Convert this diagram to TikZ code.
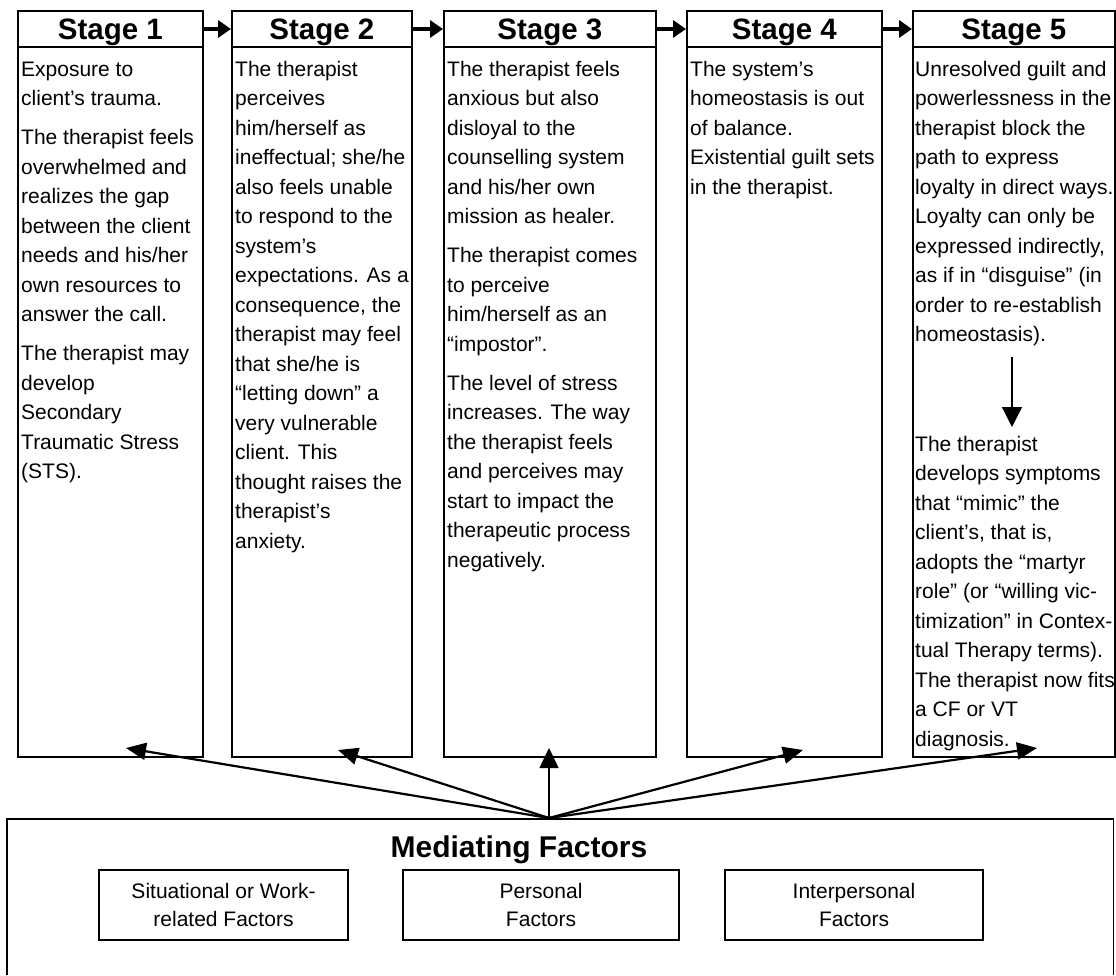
\documentclass[tikz,border=0pt]{standalone}
\usepackage{fontspec}
\setmainfont{Liberation Sans}
\usetikzlibrary{arrows.meta,calc}
\begin{document}
\begin{tikzpicture}[x=1pt,y=-1pt,
  stagebox/.style={draw, line width=1.8pt, rectangle, anchor=north west, inner sep=0pt, minimum width=#1, minimum height=746pt},
  stitle/.style={anchor=base, inner sep=0pt, font=\fontsize{29.5}{32}\selectfont\bfseries},
  body/.style={anchor=north west, inner sep=0pt, align=left, font=\fontsize{21}{29.5}\selectfont},
  harrow/.style={line width=4pt, -{Triangle[length=13pt,width=17pt]}},
  marrow/.style={line width=2.2pt, -{Triangle[length=20pt,width=17pt]}},
  subbox/.style={draw, line width=1.6pt, rectangle, inner sep=0pt, minimum height=70pt, align=center, font=\fontsize{21}{28}\selectfont},
  mtitle/.style={anchor=base, inner sep=0pt, font=\fontsize{30}{32}\selectfont\bfseries}
]
\useasboundingbox (0,0) rectangle (1116,975);
\fill[white] (0,0) rectangle (1116,975);

% stage boxes
\node[stagebox=185pt] (s1) at (17,10) {};
\node[stagebox=180pt] (s2) at (231,10) {};
\node[stagebox=212pt] (s3) at (443,10) {};
\node[stagebox=195pt] (s4) at (686,10) {};
\node[stagebox=202pt] (s5) at (912,10) {};

\foreach \s in {s1,s2,s3,s4,s5}{
  \draw[line width=1.8pt] ($(\s.north west)+(0,37)$) -- ($(\s.north east)+(0,37)$);
}

% titles
\node[stitle] (t1) at ($(s1.north)+(0,29)$) {Stage 1};
\node[stitle] (t2) at ($(s2.north)+(0,29)$) {Stage 2};
\node[stitle] (t3) at ($(s3.north)+(0,29)$) {Stage 3};
\node[stitle] (t4) at ($(s4.north)+(0,29)$) {Stage 4};
\node[stitle] (t5) at ($(s5.north)+(0,29)$) {Stage 5};

% stage arrows
\draw[harrow] ($(s1.north east)+(0,19)$) -- ($(s2.north west)+(0,19)$);
\draw[harrow] ($(s2.north east)+(0,19)$) -- ($(s3.north west)+(0,19)$);
\draw[harrow] ($(s3.north east)+(0,19)$) -- ($(s4.north west)+(0,19)$);
\draw[harrow] ($(s4.north east)+(0,19)$) -- ($(s5.north west)+(0,19)$);

% bodies
\node[body] (b1) at (21,55.35) {\strut Exposure to\\
client’s trauma.\\[9.5pt]
The therapist feels\\
overwhelmed and\\
realizes the gap\\
between the client\\
needs and his/her\\
own resources to\\
answer the call.\\[9.5pt]
The therapist may\\
develop\\
Secondary\\
Traumatic Stress\\
(STS).};

\node[body] (b2) at (235,55.35) {\strut The therapist\\
perceives\\
him/herself as\\
ineffectual; she/he\\
also feels unable\\
to respond to the\\
system’s\\
expectations. As a\\
consequence, the\\
therapist may feel\\
that she/he is\\
“letting down” a\\
very vulnerable\\
client. This\\
thought raises the\\
therapist’s\\
anxiety.};

\node[body] (b3) at (447,55.35) {\strut The therapist feels\\
anxious but also\\
disloyal to the\\
counselling system\\
and his/her own\\
mission as healer.\\[9.5pt]
The therapist comes\\
to perceive\\
him/herself as an\\
“impostor”.\\[9.5pt]
The level of stress\\
increases. The way\\
the therapist feels\\
and perceives may\\
start to impact the\\
therapeutic process\\
negatively.};

\node[body] (b4) at (690,55.35) {\strut The system’s\\
homeostasis is out\\
of balance.\\
Existential guilt sets\\
in the therapist.};

\node[body] (b5a) at (915,55.35) {\strut Unresolved guilt and\\
powerlessness in the\\
therapist block the\\
path to express\\
loyalty in direct ways.\\
Loyalty can only be\\
expressed indirectly,\\
as if in “disguise” (in\\
order to re-establish\\
homeostasis).};

\node[body] (b5b) at (915,430.35) {\strut The therapist\\
develops symptoms\\
that “mimic” the\\
client’s, that is,\\
adopts the “martyr\\
role” (or “willing vic-\\
timization” in Contex-\\
tual Therapy terms).\\
The therapist now fits\\
a CF or VT\\
diagnosis.};

\coordinate (i1) at (1012,357);
\coordinate (i2) at (1012,427);
\draw[line width=1.3pt, -{Triangle[length=20pt,width=20pt]}] (i1) -- (i2);

% mediating factors box
\node[rectangle, draw=none, anchor=north west, inner sep=0pt, minimum width=1106pt, minimum height=156pt] (mf) at (7,819) {};
\draw[line width=1.8pt] (mf.south west) -- (mf.north west) -- (mf.north east) -- (mf.south east);
\node[mtitle] (mt) at (519,857) {Mediating Factors};

\node[subbox, minimum width=249pt] (f1) at (223.5,905) {Situational or Work-\\related Factors};
\node[subbox, minimum width=276pt] (f2) at (541,905) {Personal\\Factors};
\node[subbox, minimum width=258pt] (f3) at (854,905) {Interpersonal\\Factors};

% mediating arrows
\coordinate (mo) at (549,818);
\coordinate (e1) at (126,748);
\coordinate (e2) at (338,750);
\coordinate (e3) at (549,748);
\coordinate (e4) at (803,750);
\coordinate (e5) at (1037,748);
\draw[marrow] (mo) -- (e1);
\draw[marrow] (mo) -- (e2);
\draw[line width=1.6pt, -{Triangle[length=20pt,width=19pt]}] (mo) -- (e3);
\draw[marrow] (mo) -- (e4);
\draw[marrow] (mo) -- (e5);
\end{tikzpicture}
\end{document}
